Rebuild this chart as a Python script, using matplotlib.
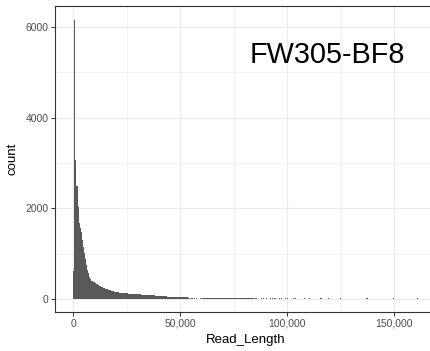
import numpy as np
import matplotlib
matplotlib.use("Agg")
import matplotlib.pyplot as plt
from matplotlib.ticker import FuncFormatter

plt.rcParams['font.family'] = ['Liberation Sans', 'DejaVu Sans']

# ---- data (histogram of read lengths, binwidth 500) ----
bin_width = 500
# bins 0-39  (0 - 20 kb)
counts_short = [620, 6150, 3066, 2493, 2022, 1670, 1566, 1485, 1301, 1154,
                1007, 875, 750, 640, 566, 492, 440, 405, 385, 368,
                352, 338, 326, 308, 292, 278, 268, 256, 245, 232,
                222, 214, 205, 197, 188, 181, 174, 168, 162, 156]
# bins 40-119 (20 - 60 kb)
counts_mid = [150, 147, 143, 140, 137, 134, 131, 129, 127, 125,
              122, 120, 118, 116, 114, 112, 110, 108, 106, 105, 103, 101,
              99, 97, 96, 94, 93, 91, 90, 89, 88, 87, 86, 85, 84, 83,
              75, 72, 70, 68, 66, 64, 62, 61, 60, 58, 57, 56,
              48, 47, 46, 45, 44, 43, 42, 41, 40, 39,
              39, 38, 37, 36, 36, 35, 34, 34, 33, 32,
              28, 0, 25, 27, 0, 24, 0, 26, 0, 0, 23, 0]
# bins 120-164 (60 - 82.5 kb)
counts_long = [18, 16, 17, 15, 16, 18, 15, 14, 16, 17,
               15, 16, 14, 15, 17, 16, 14, 15, 16, 14,
               15, 13, 16, 14, 15, 14, 13, 15, 14, 13,
               15, 14, 12, 14, 13, 15, 12, 13, 14, 12,
               13, 12, 14, 12, 11]
# sparse tail (bin index, count), 82.5 - 161.5 kb
tail_bins = [165, 166, 167, 168, 170, 171, 173, 175, 177, 180, 182, 184, 186, 188, 190,
             192, 194, 196, 198, 200, 202, 205, 207, 210, 213, 216, 220, 224, 227, 231,
             235, 238, 243, 246, 249, 254, 259, 265, 270, 274, 280, 287, 293, 299, 304,
             309, 315, 321]
tail_counts = [20, 16, 12, 15, 11, 14, 10, 15, 11, 13, 10, 14, 11, 12, 10,
               11, 13, 10, 14, 11, 10, 12, 11, 9, 10, 11, 12, 10, 9, 11,
               10, 12, 9, 10, 11, 9, 10, 9, 10, 11, 9, 10, 9, 11, 9,
               10, 9, 11]
n_bins = 323

x_ticks = [0, 50000, 100000, 150000]
x_minor = [25000, 75000, 125000]
y_ticks = [0, 2000, 4000, 6000]
y_minor = [1000, 3000, 5000]
label_text = "FW305-BF8"

counts = np.zeros(n_bins)
head = counts_short + counts_mid + counts_long
counts[:len(head)] = head
for b, c in zip(tail_bins, tail_counts):
    counts[b] = c
edges = np.arange(n_bins + 1) * bin_width

# ---- figure ----
fig = plt.figure(figsize=(4.30, 3.51), dpi=100)
ax = fig.add_axes([55.3 / 430, 1 - 312.1 / 351, 380.3 / 430, 305.8 / 351])

ax.stairs(counts, edges, fill=True, color='#595959', linewidth=0, zorder=2)

ax.set_xlim(-8400, 169300)
ax.set_ylim(-290, 6457)

ax.set_xticks(x_ticks)
ax.set_xticks(x_minor, minor=True)
ax.set_yticks(y_ticks)
ax.set_yticks(y_minor, minor=True)
ax.xaxis.set_major_formatter(FuncFormatter(lambda v, p: f"{int(v):,}"))
ax.yaxis.set_major_formatter(FuncFormatter(lambda v, p: f"{int(v)}"))

ax.grid(which='major', color='#EBEBEB', linewidth=0.8, zorder=0)
ax.grid(which='minor', color='#EBEBEB', linewidth=0.45, zorder=0)
ax.set_axisbelow(True)

ax.tick_params(which='major', length=2.7, width=0.7, color='#333333',
               labelsize=7.5, labelcolor='#4D4D4D', pad=2.2)
ax.tick_params(which='minor', length=0)
for s in ax.spines.values():
    s.set_color('#333333')
    s.set_linewidth(0.8)

ax.set_xlabel('Read_Length', fontsize=9.5, color='black')
ax.set_ylabel('count', fontsize=9.5, color='black')
ax.xaxis.set_label_coords(0.5, (312.1 - 339.5) / 305.8)
ax.xaxis.label.set_va('center')
ax.yaxis.set_label_coords((12 - 55.3) / 380.3, 0.5)
ax.yaxis.label.set_va('center')

ax.text(118800, 5213, label_text, fontsize=20.8, ha='center', va='baseline',
        color='black')

fig.savefig('out.png', dpi=100)
